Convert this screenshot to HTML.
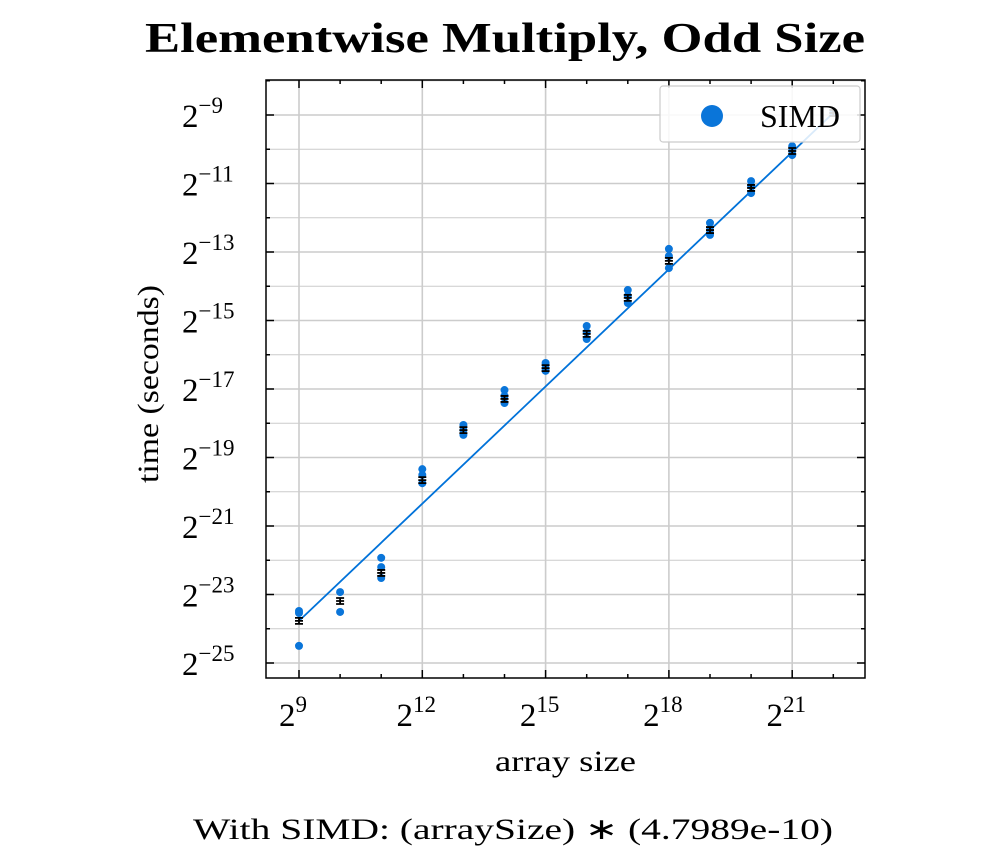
<!DOCTYPE html>
<html><head><meta charset="utf-8"><style>
html,body{margin:0;background:#fff}
svg text{font-family:"Liberation Serif",serif;fill:#000}
</style></head><body>
<svg id="c" width="1000" height="861" xmlns="http://www.w3.org/2000/svg">
<text x="145" y="52" textLength="720" lengthAdjust="spacingAndGlyphs" font-size="42" font-weight="bold">Elementwise Multiply, Odd Size</text>
<g id="grid"></g><g id="marks"></g><g id="axes"></g>
<text x="495" y="771" textLength="141" lengthAdjust="spacingAndGlyphs" font-size="30">array size</text>
<text transform="translate(158,483) rotate(-90)" textLength="198" lengthAdjust="spacingAndGlyphs" font-size="30">time (seconds)</text>
<text x="193" y="839" textLength="640" lengthAdjust="spacingAndGlyphs" font-size="30">With SIMD:  (arraySize) ∗ (4.7989e-10)</text>
</svg>
<script>
const sizesLog2=[9,10,11,12,13,14,15,16,17,18,19,20,21,22];
const samplesLog2=[[-23.48,-23.54,-24.50],[-22.93,-23.51],[-21.93,-22.20,-22.52],[-19.34,-19.51,-19.75],[-18.05,-18.20,-18.34],[-17.03,-17.20,-17.41],[-16.24,-16.39,-16.47],[-15.16,-15.34,-15.54],[-14.11,-14.28,-14.49],[-12.91,-13.12,-13.47],[-12.15,-12.36,-12.50],[-10.93,-11.07,-11.28],[-9.91,-10.05,-10.17],[-8.94]];
const meansLog2=[-23.77,-23.19,-22.37,-19.66,-18.20,-17.29,-16.39,-15.39,-14.34,-13.26,-12.36,-11.13,-10.05,-8.94];
const fitX=[9,22];
const fitY=[-23.77,-8.94];
const xTicks=[9,12,15,18,21];
const yTicks=[-9,-11,-13,-15,-17,-19,-21,-23,-25];
const NS='http://www.w3.org/2000/svg';
const L=266,R=865,T=80,B=678;
const X=v=>299+(v-9)*41.1;
const Y=v=>115+(-9-v)*34.25;
function mk(p,tag,a){const e=document.createElementNS(NS,tag);for(const k in a)e.setAttribute(k,a[k]);document.getElementById(p).appendChild(e);return e;}
for(let v=-8;v>=-25;v--){const g=mk('grid','line',{x1:L,x2:R,y1:Y(v),y2:Y(v),stroke:'#ccc','stroke-width':v%2?1.6:1});

}
for(const v of xTicks){const g=mk('grid','line',{x1:X(v),x2:X(v),y1:T,y2:B,stroke:'#ccc','stroke-width':1.6});

}
const fl=mk('marks','line',{x1:X(fitX[0]),y1:Y(fitY[0]),x2:X(fitX[1]),y2:Y(fitY[1]),stroke:'#0072d9','stroke-width':1.8});


sizesLog2.forEach((s,i)=>{
 samplesLog2[i].forEach(v=>{const c=mk('marks','circle',{cx:X(s),cy:Y(v),r:4,fill:'#0a75d9'});
 
 });
 const m=Y(meansLog2[i]),x=X(s);
 const e=mk('marks','path',{d:`M${x-4} ${m-3}H${x+4}M${x} ${m-3}V${m+3}M${x-4} ${m+3}H${x+4}M${x-4} ${m}H${x+4}`,stroke:'#000','stroke-width':1.8,fill:'none'});
 
 
});
const fr=mk('axes','rect',{x:L,y:T,width:R-L,height:B-T,fill:'none',stroke:'#000','stroke-width':1.5});


for(let v=9;v<=22;v++){const big=xTicks.includes(v)?8:4;
 mk('axes','line',{x1:X(v),x2:X(v),y1:B,y2:B-big,stroke:'#000','stroke-width':1.5});
 mk('axes','line',{x1:X(v),x2:X(v),y1:T,y2:T+big,stroke:'#000','stroke-width':1.5});}
for(let v=-8;v>=-25;v--){const big=v%2?8:4;
 mk('axes','line',{x1:L,x2:L+big,y1:Y(v),y2:Y(v),stroke:'#000','stroke-width':1.5});
 mk('axes','line',{x1:R,x2:R-big,y1:Y(v),y2:Y(v),stroke:'#000','stroke-width':1.5});}
xTicks.forEach(v=>{const t=mk('axes','text',{x:X(v)-6,y:726,'text-anchor':'middle','font-size':33});
 t.innerHTML='2<tspan dy="-14" font-size="23">'+v+'</tspan>';
 
 });
yTicks.forEach(v=>{const t=mk('axes','text',{x:182,y:Y(v)+12,'font-size':33});
 t.innerHTML='2<tspan dy="-14" font-size="23">−'+(-v)+'</tspan>';
 
 });
const lg=mk('axes','rect',{x:660,y:86,width:200,height:56,rx:3,fill:'rgba(255,255,255,0.85)',stroke:'#ccc','stroke-width':1.2});


const ld=mk('axes','circle',{cx:712,cy:116,r:11,fill:'#0a75d9'});


const lt=mk('axes','text',{x:760,y:127,'font-size':32});lt.textContent='SIMD';


</script>
</body></html>
